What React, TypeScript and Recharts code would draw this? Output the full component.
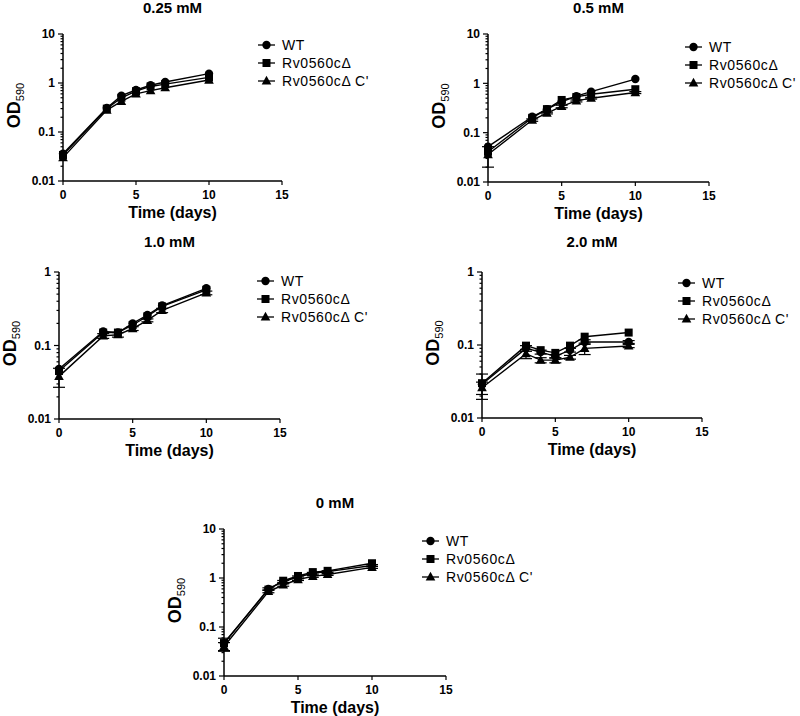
import React from 'react'
import { LineChart, Line, XAxis, YAxis, Label, ErrorBar } from 'recharts'

// sampling days and axis ticks
const days = [0, 3, 4, 5, 6, 7, 10]
const xTicks = [0, 5, 10, 15]
const yMajorsTen = [0.01, 0.1, 1, 10]
const yMajorsOne = [0.01, 0.1, 1]
const seriesNames = ['WT', 'Rv0560cΔ', "Rv0560cΔ C'"]

// 0.25 mM
const wt025 = [0.036, 0.31, 0.55, 0.72, 0.9, 1.05, 1.55]
const mut025 = [0.034, 0.3, 0.5, 0.68, 0.85, 0.95, 1.3]
const comp025 = [0.03, 0.28, 0.42, 0.6, 0.7, 0.8, 1.15]

// 0.5 mM
const wt05 = [0.052, 0.21, 0.3, 0.42, 0.55, 0.68, 1.22]
const mut05 = [0.041, 0.2, 0.3, 0.46, 0.53, 0.6, 0.76]
const comp05 = [0.036, 0.18, 0.25, 0.34, 0.44, 0.5, 0.65]
const comp05Err = [0.016, 0.01, 0.01, 0.02, 0.02, 0.02, 0.03]

// 1.0 mM
const wt10 = [0.048, 0.155, 0.15, 0.2, 0.26, 0.35, 0.6]
const mut10 = [0.045, 0.15, 0.15, 0.19, 0.25, 0.34, 0.57]
const comp10 = [0.038, 0.135, 0.14, 0.17, 0.22, 0.3, 0.52]
const comp10Err = [0.011, 0.01, 0.01, 0.01, 0.01, 0.02, 0.03]

// 2.0 mM
const wt20 = [0.029, 0.09, 0.08, 0.07, 0.085, 0.11, 0.11]
const mut20 = [0.03, 0.098, 0.085, 0.078, 0.098, 0.13, 0.148]
const comp20 = [0.026, 0.076, 0.062, 0.062, 0.068, 0.09, 0.097]
const wt20Err = [0.011, 0.008, 0.005, 0.004, 0.005, 0.008, 0.005]
const comp20Err = [0.005, 0.011, 0.005, 0.005, 0.004, 0.016, 0.005]

// 0 mM
const wt0 = [0.046, 0.6, 0.85, 1.05, 1.25, 1.35, 1.8]
const mut0 = [0.047, 0.58, 0.88, 1.1, 1.32, 1.4, 2.0]
const comp0 = [0.04, 0.53, 0.72, 0.93, 1.08, 1.18, 1.65]
const wt0Err = [0.013, 0.03, 0.04, 0.05, 0.05, 0.06, 0.08]
const comp0Err = [0.008, 0.03, 0.04, 0.04, 0.05, 0.05, 0.08]

const font = '"Liberation Sans", Arial, sans-serif'

const panels = [
  { title: '0.25 mM', wt: wt025, mut: mut025, comp: comp025, majors: yMajorsTen, left: 63, right: 282, top: 34, bottom: 181, titleY: 0, lx: 258, ly: 45 },
  { title: '0.5 mM', wt: wt05, mut: mut05, comp: comp05, compErr: comp05Err, majors: yMajorsTen, left: 488, right: 709, top: 34, bottom: 182, titleY: 0, lx: 685, ly: 47 },
  { title: '1.0 mM', wt: wt10, mut: mut10, comp: comp10, compErr: comp10Err, majors: yMajorsOne, left: 59, right: 280, top: 272, bottom: 419, titleY: 234, lx: 257, ly: 281 },
  { title: '2.0 mM', wt: wt20, mut: mut20, comp: comp20, wtErr: wt20Err, compErr: comp20Err, majors: yMajorsOne, left: 482, right: 702, top: 272, bottom: 418, titleY: 234, lx: 678, ly: 283 },
  { title: '0 mM', wt: wt0, mut: mut0, comp: comp0, wtErr: wt0Err, compErr: comp0Err, majors: yMajorsTen, left: 224, right: 446, top: 529, bottom: 676, titleY: 495, lx: 422, ly: 541 },
]

const logTicks = (majors: number[]) => {
  const out: number[] = []
  for (let i = 0; i < majors.length - 1; i++) {
    for (let k = 1; k <= 9; k++) out.push(+(majors[i] * k).toPrecision(3))
  }
  out.push(majors[majors.length - 1])
  return out
}

const YTick = ({ x, y, payload, majors }: any) => {
  const v = payload.value
  const major = majors.some((m: number) => Math.abs(m - v) < 1e-9)
  const len = major ? 5 : 2.5
  return (
    <g>
      <line x1={x - len} x2={x} y1={y} y2={y} stroke="#000" strokeWidth={1.2} />
      {major && (
        <text x={x - 8} y={y} dy="0.35em" textAnchor="end" fontSize={12} fontWeight={700} fontFamily={font} fill="#000">
          {String(v)}
        </text>
      )}
    </g>
  )
}

const XLabel = ({ viewBox }: any) => (
  <text x={viewBox.x + viewBox.width / 2} y={viewBox.y + 37} textAnchor="middle" fontSize={16} fontWeight={700} fontFamily={font} fill="#000">
    Time (days)
  </text>
)

const YLabel = ({ viewBox }: any) => {
  const cx = viewBox.x + viewBox.width - 43
  const cy = viewBox.y + viewBox.height / 2 - 2
  return (
    <text x={cx} y={cy} transform={`rotate(-90 ${cx} ${cy})`} textAnchor="middle" fontFamily={font} fill="#000">
      <tspan fontSize={18} fontWeight={700}>OD</tspan>
      <tspan fontSize={11} dy={4}>590</tspan>
    </text>
  )
}

const Marker = ({ kind, cx, cy }: { kind: string; cx: number; cy: number }) => {
  if (kind === 'circle') return <circle cx={cx} cy={cy} r={4.2} fill="#000" />
  if (kind === 'square') return <rect x={cx - 4} y={cy - 4} width={8} height={8} fill="#000" />
  return <polygon points={`${cx},${cy - 5.2} ${cx + 4.8},${cy + 3.6} ${cx - 4.8},${cy + 3.6}`} fill="#000" />
}

const kinds = ['circle', 'square', 'triangle']
const keys = ['wt', 'mut', 'comp']

const dotFor = (kind: string) => (props: any) => (
  <Marker key={`${kind}-${props.index}`} kind={kind} cx={props.cx} cy={props.cy} />
)

function Legend({ lx, ly }: { lx: number; ly: number }) {
  return (
    <>
      {seriesNames.map((name, i) => (
        <div
          key={name}
          style={{
            position: 'absolute',
            left: lx,
            top: ly - 9 + i * 18,
            height: 18,
            display: 'flex',
            alignItems: 'center',
            whiteSpace: 'nowrap',
          }}
        >
          <svg width={17} height={12}>
            <line x1={0} x2={17} y1={6} y2={6} stroke="#000" strokeWidth={1.3} />
            <Marker kind={kinds[i]} cx={8.5} cy={6} />
          </svg>
          <span style={{ marginLeft: 7, fontSize: 14, letterSpacing: 0.6, fontFamily: font, color: '#000' }}>{name}</span>
        </div>
      ))}
    </>
  )
}

function Panel({ p }: { p: any }) {
  const data = days.map((d, i) => ({
    day: d,
    wt: p.wt[i],
    mut: p.mut[i],
    comp: p.comp[i],
    wtErr: p.wtErr ? p.wtErr[i] : undefined,
    compErr: p.compErr ? p.compErr[i] : undefined,
  }))
  const plotW = p.right - p.left
  const plotH = p.bottom - p.top
  const W = 60 + plotW + 12
  const H = 10 + plotH + 45
  const domain = [p.majors[0], p.majors[p.majors.length - 1]]
  return (
    <>
      <div
        style={{
          position: 'absolute',
          left: (p.left + p.right) / 2,
          top: p.titleY,
          transform: 'translateX(-50%)',
          fontSize: 15,
          lineHeight: '15px',
          fontWeight: 700,
          fontFamily: font,
          whiteSpace: 'nowrap',
          color: '#000',
        }}
      >
        {p.title}
      </div>
      <div style={{ position: 'absolute', left: p.left - 60, top: p.top - 10 }}>
        <LineChart width={W} height={H} data={data} margin={{ top: 10, right: 12, left: 0, bottom: 0 }}>
          <XAxis
            dataKey="day"
            type="number"
            domain={[0, 15]}
            ticks={xTicks}
            interval={0}
            height={45}
            tickSize={4}
            tickMargin={5}
            axisLine={{ stroke: '#000', strokeWidth: 1.5 }}
            tickLine={{ stroke: '#000', strokeWidth: 1.2 }}
            tick={{ fontSize: 12, fontWeight: 700, fill: '#000', fontFamily: font }}
            label={<Label content={<XLabel />} />}
          />
          <YAxis
            type="number"
            scale="log"
            domain={domain}
            allowDataOverflow
            ticks={logTicks(p.majors)}
            interval={0}
            width={60}
            tickSize={0}
            tickMargin={0}
            tickLine={false}
            axisLine={{ stroke: '#000', strokeWidth: 1.5 }}
            tick={<YTick majors={p.majors} />}
            label={<Label content={<YLabel />} />}
          />
          {keys.map((k, i) => (
            <Line
              key={k}
              dataKey={k}
              type="linear"
              stroke="#000"
              strokeWidth={1.4}
              dot={dotFor(kinds[i])}
              activeDot={false}
              isAnimationActive={false}
            >
              {p[`${k}Err`] && (
                <ErrorBar dataKey={`${k}Err`} width={6} stroke="#000" strokeWidth={1.2} direction="y" isAnimationActive={false} />
              )}
            </Line>
          ))}
        </LineChart>
      </div>
      <Legend lx={p.lx} ly={p.ly} />
    </>
  )
}

export default function App() {
  return (
    <div style={{ position: 'absolute', left: 0, top: 0, width: 800, height: 716, background: '#fff' }}>
      {panels.map(p => (
        <Panel key={p.title} p={p} />
      ))}
    </div>
  )
}
